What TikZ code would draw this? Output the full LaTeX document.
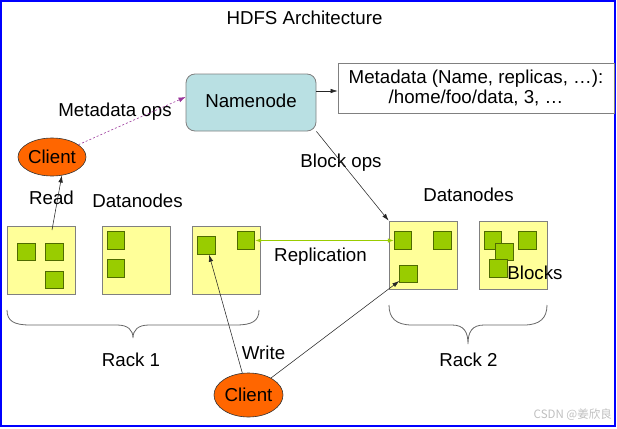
\documentclass[tikz,border=0pt]{standalone}
\usepackage{fontspec}
\setmainfont{Liberation Sans}
\newfontfamily\cjkfont{Noto Sans CJK SC}
\usetikzlibrary{arrows.meta,shapes.geometric}
\definecolor{nnfill}{HTML}{B9E0E3}
\definecolor{boxfill}{HTML}{FFFF99}
\definecolor{blkfill}{HTML}{99CC00}
\definecolor{blkdraw}{HTML}{4F6B00}
\definecolor{clientfill}{HTML}{FF6600}
\definecolor{framegray}{HTML}{808080}
\definecolor{opspurple}{HTML}{993399}
\definecolor{repgreen}{HTML}{99CC00}
\begin{document}
\begin{tikzpicture}[x=1pt,y=-1pt,
  txt/.style={font=\fontsize{18.7}{20.5}\selectfont},
  lbl/.style={txt,inner sep=0pt,text height=13.4pt,text depth=0pt},
  dnbox/.style={draw=framegray,fill=boxfill,line width=0.8pt,minimum size=68pt,inner sep=0pt},
  blk/.style={draw=blkdraw,fill=blkfill,line width=0.9pt,minimum size=17.5pt,inner sep=0pt},
  clientnode/.style={ellipse,draw=black!80,fill=clientfill,line width=0.6pt,inner sep=0pt,txt,text height=13.4pt,text depth=0pt},
  conn/.style={draw=black!85,line width=0.55pt,-{Latex[length=7pt,width=4.5pt]}},
  brace/.style={draw=black!60,line width=0.8pt}
]
\useasboundingbox (0,0) rectangle (617,428);
\draw[blue,line width=2pt] (1,1) rectangle (615,426);

% title
\node[lbl] (title) at (304.5,17.5) {HDFS Architecture};

% namenode and metadata
\node[draw=framegray,fill=nnfill,rounded corners=9pt,line width=0.8pt,minimum width=130pt,minimum height=57pt,inner sep=0pt,txt,text height=13.4pt,text depth=4pt] (namenode) at (251,102.5) {Namenode};
\node[draw=framegray,fill=white,line width=0.8pt,minimum width=276pt,minimum height=50pt,inner sep=0pt,txt,align=center] (meta) at (476,88) {Metadata (Name, replicas, …):\\/home/foo/data, 3, …};

% clients
\node[clientnode,minimum width=68pt,minimum height=38pt] (client1) at (52,157) {Client};
\node[clientnode,minimum width=69pt,minimum height=44pt] (client2) at (248.5,395) {Client};

% datanodes rack 1
\node[dnbox] (box1) at (41,260) {};
\node[dnbox] (box2) at (136,260) {};
\node[dnbox] (box3) at (226,260) {};
% datanodes rack 2
\node[dnbox] (box4) at (423,255) {};
\node[dnbox] (box5) at (513,255) {};

% blocks
\node[blk] (b1a) at (26.5,252) {};
\node[blk] (b1b) at (54.5,252) {};
\node[blk] (b1c) at (54.5,280) {};
\node[blk] (b2a) at (116,240.5) {};
\node[blk] (b2b) at (116,268.5) {};
\node[blk] (b3a) at (206.5,245.5) {};
\node[blk] (b3b) at (246,240.5) {};
\node[blk] (b4a) at (403,240.5) {};
\node[blk] (b4b) at (442.5,240.5) {};
\node[blk] (b4c) at (408.5,274) {};
\node[blk] (b5a) at (493,240.5) {};
\node[blk] (b5b) at (504.5,252) {};
\node[blk] (b5c) at (498.5,268.5) {};
\node[blk] (b5d) at (527.5,240.5) {};

% labels
\node[lbl] (lmetaops) at (115,110) {Metadata ops};
\node[lbl] (lread) at (51.5,198) {Read};
\node[lbl] (ldn1) at (137.5,201) {Datanodes};
\node[lbl] (lblockops) at (341,160.5) {Block ops};
\node[lbl] (ldn2) at (468.5,194.5) {Datanodes};
\node[lbl] (lrepl) at (320.5,254.5) {Replication};
\node[lbl] (lblocks) at (535,273) {Blocks};
\node[lbl] (lrack1) at (131,360) {Rack 1};
\node[lbl] (lwrite) at (263.5,352.5) {Write};
\node[lbl] (lrack2) at (468.5,360) {Rack 2};

% braces
\draw[brace] (7,310) .. controls (7,321) and (14,325) .. (30,325) -- (117,325)
  .. controls (128,325) and (133,330) .. (133,338)
  .. controls (133,330) and (138,325) .. (149,325) -- (236,325)
  .. controls (252,325) and (259,321) .. (259,310);
\draw[brace] (389,305) .. controls (389,318) and (396,325) .. (412,325) -- (452,325)
  .. controls (464,325) and (468,332) .. (468,344)
  .. controls (468,332) and (472,325) .. (484,325) -- (524,325)
  .. controls (540,325) and (547,318) .. (547,305);

% connectors
\coordinate (rstart) at (52,230);
\draw[conn] (rstart) -- (client1.-62);
\draw[draw=opspurple,line width=0.6pt,dash pattern=on 2pt off 2pt,-{Latex[length=7pt,width=5pt]}] (client1.25) -- ([yshift=5.5pt]namenode.west);
\draw[conn] ([yshift=11.5pt]namenode.east) -- ([yshift=-3pt]meta.west);
\draw[conn] (namenode.south east) -- (box4.north west);
\draw[draw=repgreen,line width=0.8pt,{Latex[length=6pt,width=4.5pt]}-{Latex[length=6pt,width=4.5pt]}] (b3b) -- (b4a);
\draw[conn] (client2) -- (b3a);
\draw[conn] (client2) -- (b4c);

% watermark
\node[inner sep=0pt,text=black!25,font=\cjkfont\fontsize{11.5}{13}\selectfont,anchor=east] (wm) at (612,415) {CSDN @姜欣良};
\end{tikzpicture}
\end{document}
